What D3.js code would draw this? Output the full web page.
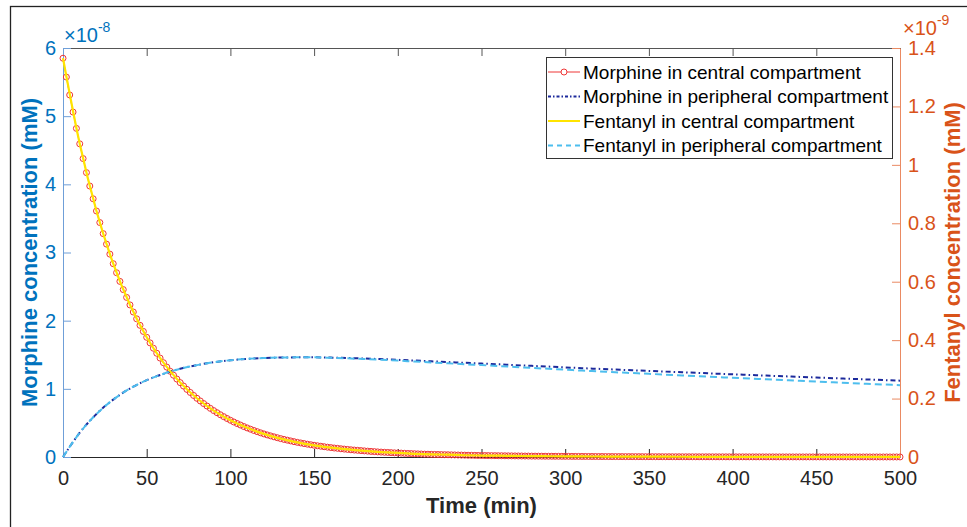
<!DOCTYPE html>
<html>
<head>
<meta charset="utf-8">
<script src="https://cdn.jsdelivr.net/npm/d3@7"></script>
<style>
  html, body { margin: 0; padding: 0; background: #fff; }
  svg { display: block; font-family: "Liberation Sans", Arial, Helvetica, sans-serif; }
</style>
</head>
<body>
<svg id="chart" width="967" height="527"></svg>
<script>
// ---- data -------------------------------------------------------------
// Time axis (min)
const timeDomain = [0, 500];
const xTicks = [0, 50, 100, 150, 200, 250, 300, 350, 400, 450, 500];

// Left axis: morphine, values in units of 1e-8 mM
const leftTicks = [0, 1, 2, 3, 4, 5, 6];
const leftExponent = "-8";
// Right axis: fentanyl, values in units of 1e-9 mM
const rightTicks = [0, 0.2, 0.4, 0.6, 0.8, 1, 1.2, 1.4];
const rightExponent = "-9";

// Morphine in central compartment, sampled every 2 min (t = 0 ... 500)
const morphineCentralStep = 2;
const morphineCentral = [
  5.850, 5.574, 5.311, 5.060, 4.821,
  4.594, 4.378, 4.172, 3.975, 3.788,
  3.609, 3.439, 3.277, 3.123, 2.976,
  2.836, 2.703, 2.576, 2.456, 2.341,
  2.231, 2.127, 2.027, 1.932, 1.842,
  1.756, 1.674, 1.596, 1.522, 1.451,
  1.383, 1.319, 1.258, 1.200, 1.144,
  1.091, 1.041, 0.992, 0.947, 0.903,
  0.861, 0.822, 0.784, 0.748, 0.714,
  0.681, 0.650, 0.620, 0.592, 0.565,
  0.539, 0.514, 0.491, 0.469, 0.447,
  0.427, 0.408, 0.389, 0.372, 0.355,
  0.339, 0.324, 0.310, 0.296, 0.283,
  0.270, 0.258, 0.247, 0.236, 0.225,
  0.215, 0.206, 0.197, 0.188, 0.180,
  0.172, 0.165, 0.158, 0.151, 0.144,
  0.138, 0.132, 0.127, 0.121, 0.116,
  0.111, 0.106, 0.102, 0.098, 0.094,
  0.090, 0.086, 0.082, 0.079, 0.075,
  0.072, 0.069, 0.067, 0.064, 0.061,
  0.059, 0.057, 0.054, 0.052, 0.050,
  0.048, 0.046, 0.044, 0.042, 0.041,
  0.039, 0.0377, 0.0365, 0.0353, 0.0341,
  0.033, 0.0317, 0.0305, 0.0293, 0.0281,
  0.027, 0.0259, 0.0249, 0.0239, 0.0229,
  0.022, 0.0214, 0.0207, 0.0201, 0.0196,
  0.019, 0.0184, 0.0177, 0.0171, 0.0166,
  0.016, 0.0153, 0.0147, 0.0141, 0.0136,
  0.013, 0.0126, 0.0122, 0.0118, 0.0114,
  0.011, 0.0108, 0.0105, 0.0102, 0.0099,
  0.0097, 0.0094, 0.0091, 0.0088, 0.0086,
  0.0083, 0.0081, 0.0078, 0.0076, 0.0074,
  0.0071, 0.0069, 0.0068, 0.0066, 0.0064,
  0.0062, 0.0060, 0.0059, 0.0057, 0.0056,
  0.0054, 0.0053, 0.0051, 0.0050, 0.0048,
  0.0047, 0.0046, 0.0045, 0.0043, 0.0042,
  0.0041, 0.0040, 0.0039, 0.0038, 0.0037,
  0.0036, 0.0035, 0.0034, 0.0034, 0.0033,
  0.0032, 0.0031, 0.0030, 0.0030, 0.0029,
  0.0028, 0.0027, 0.0027, 0.0026, 0.0026,
  0.0025, 0.0024, 0.0024, 0.0023, 0.0023,
  0.0022, 0.0022, 0.0021, 0.0021, 0.0020,
  0.0020, 0.0019, 0.0019, 0.0018, 0.0018,
  0.0018, 0.0017, 0.0017, 0.0016, 0.0016,
  0.0016, 0.0015, 0.0015, 0.0015, 0.0014,
  0.0014, 0.0014, 0.0013, 0.0013, 0.0013,
  0.0012, 0.0012, 0.0012, 0.0012, 0.0011,
  0.0011, 0.0011, 0.0011, 0.0010, 0.0010,
  0.0010, 0.0010, 0.0009, 0.0009, 0.0009,
  0.0009, 0.0009, 0.0008, 0.0008, 0.0008,
  0.0008
];

// Remaining series sampled every 10 min (t = 0 ... 500)
const seriesStep = 10;
const morphinePeripheral = [
  0, 0.356, 0.631, 0.842, 1.004, 1.127, 1.220, 1.295, 1.348, 1.390,
  1.420, 1.440, 1.452, 1.459, 1.462, 1.462, 1.458, 1.452, 1.444, 1.436,
  1.426, 1.415, 1.404, 1.393, 1.382, 1.371, 1.360, 1.348, 1.337, 1.326,
  1.315, 1.303, 1.293, 1.283, 1.273, 1.263, 1.253, 1.243, 1.233, 1.223,
  1.213, 1.204, 1.194, 1.185, 1.175, 1.166, 1.157, 1.147, 1.138, 1.129,
  1.120
];
const fentanylCentral = [
  1.365, 1.072, 0.842, 0.662, 0.521, 0.410, 0.323, 0.255, 0.201, 0.159,
  0.126, 0.100, 0.079, 0.063, 0.050, 0.040, 0.032, 0.026, 0.021, 0.017,
  0.014, 0.011, 0.009, 0.008, 0.006, 0.005, 0.0044, 0.0037, 0.0030, 0.0026,
  0.0023, 0.0019, 0.0017, 0.0014, 0.0013, 0.0011, 0.0010, 0.0008, 0.0007, 0.0007,
  0.0006, 0.0005, 0.0005, 0.0004, 0.0004, 0.0003, 0.0003, 0.0003, 0.0002, 0.0002,
  0.0002
];
const fentanylPeripheral = [
  0, 0.0831, 0.1472, 0.1964, 0.2342, 0.2629, 0.2846, 0.3021, 0.3145, 0.3243,
  0.3313, 0.3360, 0.3388, 0.3404, 0.3411, 0.3411, 0.3396, 0.3376, 0.3352, 0.3327,
  0.3299, 0.3267, 0.3237, 0.3206, 0.3175, 0.3145, 0.3114, 0.3081, 0.3050, 0.3020,
  0.2990, 0.2957, 0.2930, 0.2901, 0.2874, 0.2847, 0.2819, 0.2792, 0.2764, 0.2737,
  0.2710, 0.2685, 0.2658, 0.2633, 0.2606, 0.2581, 0.2557, 0.2530, 0.2506, 0.2482,
  0.2458
];

const legendLabels = [
  "Morphine in central compartment",
  "Morphine in peripheral compartment",
  "Fentanyl in central compartment",
  "Fentanyl in peripheral compartment"
];

// ---- layout & styles --------------------------------------------------
const plot = { left: 63, right: 900, top: 48, bottom: 457 };
const colors = {
  axisDark: "#262626",
  leftAxis: "#0072BD",
  leftAxisLine: "#6f9fd8",
  rightAxis: "#D95319",
  rightAxisLine: "#ea8a62",
  morphCentral: "#ee3636",
  morphPeriph: "#1c2a9c",
  fentCentral: "#ffe400",
  fentPeriph: "#4DBEEE"
};
const fontTick = 20;
const fontLabel = 22;

const svg = d3.select("#chart");

// outer figure frame
svg.append("rect")
  .attr("x", 10.5).attr("y", 6.5)
  .attr("width", 1000).attr("height", 600)
  .attr("fill", "#fff")
  .attr("stroke", "#222").attr("stroke-width", 1.3);

const x = d3.scaleLinear().domain(timeDomain).range([plot.left, plot.right]);
const yL = d3.scaleLinear().domain([0, 6]).range([plot.bottom, plot.top]);
const yR = d3.scaleLinear().domain([0, 1.4]).range([plot.bottom, plot.top]);

const toPoints = (arr, step) => arr.map((v, i) => [i * step, v]);

// ---- axes -------------------------------------------------------------
function styleAxis(g, lineColor, textColor) {
  g.selectAll("path.domain").attr("stroke", lineColor).attr("stroke-width", 1);
  g.selectAll(".tick line").attr("stroke", lineColor).attr("stroke-width", 1);
  g.selectAll(".tick text").attr("fill", textColor)
    .attr("font-size", fontTick)
    .attr("font-family", "'Liberation Sans', Arial, Helvetica, sans-serif");
}

// top box edge with ticks
const gTop = svg.append("g").attr("transform", `translate(0,${plot.top})`)
  .call(d3.axisTop(x).tickValues(xTicks).tickSizeInner(-8).tickSizeOuter(0).tickFormat(""));
styleAxis(gTop, "#555", colors.axisDark);

// bottom axis
const gBottom = svg.append("g").attr("transform", `translate(0,${plot.bottom})`)
  .call(d3.axisBottom(x).tickValues(xTicks).tickSizeInner(-8).tickSizeOuter(0).tickPadding(14)
    .tickFormat(d3.format("d")));
styleAxis(gBottom, colors.axisDark, colors.axisDark);

// left axis (morphine)
const gLeft = svg.append("g").attr("transform", `translate(${plot.left},0)`)
  .call(d3.axisLeft(yL).tickValues(leftTicks).tickSizeInner(-8).tickSizeOuter(0).tickPadding(7)
    .tickFormat(d3.format("d")));
styleAxis(gLeft, colors.leftAxisLine, colors.leftAxis);

// right axis (fentanyl)
const gRight = svg.append("g").attr("transform", `translate(${plot.right},0)`)
  .call(d3.axisRight(yR).tickValues(rightTicks).tickSizeInner(-8).tickSizeOuter(0).tickPadding(8)
    .tickFormat(d => d3.format("~g")(d)));
styleAxis(gRight, colors.rightAxisLine, colors.rightAxis);

// exponent multipliers
function exponentLabel(xPos, yPos, exp, color) {
  const t = svg.append("text").attr("x", xPos).attr("y", yPos)
    .attr("font-size", fontTick).attr("fill", color);
  t.append("tspan").text("\u00d710");
  t.append("tspan").attr("dy", -10).attr("font-size", 14).text(exp);
}
exponentLabel(64, 42, leftExponent, colors.leftAxis);
exponentLabel(903, 35, rightExponent, colors.rightAxis);

// axis titles
svg.append("text")
  .attr("x", (plot.left + plot.right) / 2).attr("y", 513)
  .attr("text-anchor", "middle").attr("font-weight", "bold")
  .attr("font-size", fontLabel).attr("fill", colors.axisDark)
  .text("Time (min)");

svg.append("text")
  .attr("transform", `translate(37,${(plot.top + plot.bottom) / 2}) rotate(-90)`)
  .attr("text-anchor", "middle").attr("font-weight", "bold")
  .attr("font-size", fontLabel).attr("fill", colors.leftAxis)
  .text("Morphine concentration (mM)");

svg.append("text")
  .attr("transform", `translate(960,${(plot.top + plot.bottom) / 2}) rotate(-90)`)
  .attr("text-anchor", "middle").attr("font-weight", "bold")
  .attr("font-size", fontLabel).attr("fill", colors.rightAxis)
  .text("Fentanyl concentration (mM)");

// ---- series -----------------------------------------------------------
const lineL = d3.line().x(d => x(d[0])).y(d => yL(d[1]));
const lineLSmooth = d3.line().x(d => x(d[0])).y(d => yL(d[1])).curve(d3.curveMonotoneX);
const lineRSmooth = d3.line().x(d => x(d[0])).y(d => yR(d[1])).curve(d3.curveMonotoneX);

const mcPts = toPoints(morphineCentral, morphineCentralStep);

// morphine central: red line with circle markers
svg.append("path").attr("d", lineL(mcPts))
  .attr("fill", "none").attr("stroke", colors.morphCentral).attr("stroke-width", 1);
svg.append("g").selectAll("circle").data(mcPts).join("circle")
  .attr("cx", d => x(d[0])).attr("cy", d => yL(d[1])).attr("r", 3)
  .attr("fill", "none").attr("stroke", colors.morphCentral).attr("stroke-width", 1);

// morphine peripheral: navy dash-dot
svg.append("path").attr("d", lineLSmooth(toPoints(morphinePeripheral, seriesStep)))
  .attr("fill", "none").attr("stroke", colors.morphPeriph).attr("stroke-width", 2)
  .attr("stroke-dasharray", "5,3,1.5,3");

// fentanyl central: yellow solid
svg.append("path").attr("d", lineRSmooth(toPoints(fentanylCentral, seriesStep)))
  .attr("fill", "none").attr("stroke", colors.fentCentral).attr("stroke-width", 2.2);

// fentanyl peripheral: light blue dashed
svg.append("path").attr("d", lineRSmooth(toPoints(fentanylPeripheral, seriesStep)))
  .attr("fill", "none").attr("stroke", colors.fentPeriph).attr("stroke-width", 2)
  .attr("stroke-dasharray", "7,4");

// ---- legend -----------------------------------------------------------
const legend = svg.append("g");
legend.append("rect")
  .attr("x", 546.5).attr("y", 57.5).attr("width", 346).attr("height", 101)
  .attr("fill", "#fff").attr("stroke", "#333").attr("stroke-width", 1);

const rowY = [72, 96.5, 121, 145.5];
const sampleX0 = 548, sampleX1 = 580;
const legendStyles = [
  { color: colors.morphCentral, width: 1, dash: null, marker: true },
  { color: colors.morphPeriph, width: 2, dash: "3,2,1.5,2", marker: false },
  { color: colors.fentCentral, width: 2, dash: null, marker: false },
  { color: colors.fentPeriph, width: 2, dash: "5,4", marker: false }
];
legendLabels.forEach((label, i) => {
  const s = legendStyles[i];
  const ln = legend.append("line")
    .attr("x1", sampleX0).attr("x2", sampleX1).attr("y1", rowY[i]).attr("y2", rowY[i])
    .attr("stroke", s.color).attr("stroke-width", s.width);
  if (s.dash) ln.attr("stroke-dasharray", s.dash);
  if (s.marker) {
    legend.append("circle").attr("cx", (sampleX0 + sampleX1) / 2).attr("cy", rowY[i]).attr("r", 3)
      .attr("fill", "#fff").attr("stroke", s.color).attr("stroke-width", 1);
  }
  legend.append("text").attr("x", 583).attr("y", rowY[i]).attr("dy", "0.35em")
    .attr("font-size", 19).attr("fill", "#000").text(label);
});
</script>
</body>
</html>
